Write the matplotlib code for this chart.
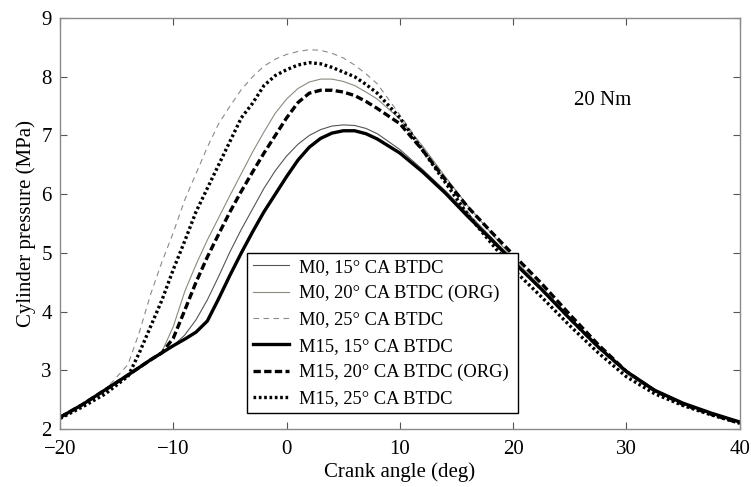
import matplotlib
matplotlib.use('Agg')
import matplotlib.pyplot as plt

plt.rcParams['font.family'] = ['Liberation Serif', 'DejaVu Serif']

# crank angle (deg) points
angle = [-20, -18, -16, -14, -13, -12, -11, -10, -9, -8, -7, -6, -5, -4, -3, -2, -1,
         0, 1, 2, 3, 4, 5, 6, 7, 8, 10, 12, 14, 16, 18, 20,
         22.5, 25, 27.5, 30, 32.5, 35, 37.5, 40]

# cylinder pressure (MPa)
m0_15 = [2.20, 2.42, 2.67, 2.92, 3.05, 3.18, 3.30, 3.42, 3.60, 3.86, 4.20, 4.60, 5.02, 5.40, 5.75, 6.10, 6.40,
         6.65, 6.85, 7.00, 7.10, 7.16, 7.18, 7.17, 7.12, 7.03, 6.76, 6.42, 6.06, 5.67, 5.28, 4.88,
         4.40, 3.88, 3.40, 2.97, 2.66, 2.43, 2.26, 2.12]
m0_20 = [2.20, 2.42, 2.67, 2.92, 3.05, 3.18, 3.32, 3.75, 4.34, 4.80, 5.22, 5.60, 5.98, 6.35, 6.72, 7.06, 7.38,
         7.62, 7.80, 7.91, 7.96, 7.96, 7.92, 7.85, 7.74, 7.62, 7.28, 6.82, 6.30, 5.80, 5.35, 4.90,
         4.42, 3.90, 3.41, 2.97, 2.65, 2.43, 2.26, 2.11]
m0_25 = [2.20, 2.42, 2.67, 3.10, 3.65, 4.30, 4.85, 5.35, 5.90, 6.35, 6.80, 7.20, 7.50, 7.78, 8.00, 8.18, 8.30,
         8.38, 8.43, 8.46, 8.45, 8.40, 8.32, 8.20, 8.05, 7.88, 7.35, 6.80, 6.25, 5.70, 5.25, 4.85,
         4.36, 3.85, 3.37, 2.94, 2.63, 2.42, 2.25, 2.11]
m15_15 = [2.20, 2.42, 2.67, 2.92, 3.05, 3.18, 3.30, 3.42, 3.53, 3.65, 3.84, 4.22, 4.62, 5.00, 5.36, 5.70, 6.00,
          6.30, 6.58, 6.80, 6.95, 7.04, 7.08, 7.08, 7.03, 6.94, 6.70, 6.38, 6.02, 5.62, 5.24, 4.85,
          4.38, 3.88, 3.40, 2.98, 2.66, 2.44, 2.27, 2.12]
m15_20 = [2.20, 2.42, 2.67, 2.92, 3.05, 3.18, 3.30, 3.55, 4.02, 4.50, 4.93, 5.32, 5.70, 6.05, 6.38, 6.70, 7.00,
          7.30, 7.56, 7.72, 7.77, 7.77, 7.74, 7.68, 7.58, 7.46, 7.20, 6.75, 6.25, 5.78, 5.37, 4.97,
          4.48, 3.95, 3.44, 2.98, 2.65, 2.42, 2.25, 2.10]
m15_25 = [2.18, 2.38, 2.60, 2.90, 3.30, 3.75, 4.20, 4.72, 5.20, 5.70, 6.10, 6.50, 6.90, 7.30, 7.55, 7.85, 8.02,
          8.12, 8.20, 8.24, 8.22, 8.16, 8.08, 8.00, 7.87, 7.72, 7.30, 6.75, 6.20, 5.65, 5.18, 4.72,
          4.25, 3.76, 3.30, 2.89, 2.60, 2.40, 2.24, 2.10]

labels = ['M0, 15° CA BTDC', 'M0, 20° CA BTDC (ORG)', 'M0, 25° CA BTDC',
          'M15, 15° CA BTDC', 'M15, 20° CA BTDC (ORG)', 'M15, 25° CA BTDC']

fig = plt.figure(figsize=(7.51, 4.87), dpi=100)
ax = fig.add_axes([0.080, 0.119, 0.905, 0.844])

ax.plot(angle, m0_15, color='#555555', lw=0.8, label=labels[0])
ax.plot(angle, m0_20, color='#8a8a80', lw=0.8, label=labels[1])
ax.plot(angle, m0_25, color='#8a8a8a', lw=0.8, ls=(0, (5, 4)), label=labels[2])
ax.plot(angle, m15_15, color='black', lw=2.4, label=labels[3])
ax.plot(angle, m15_20, color='black', lw=2.4, ls=(0, (2.2, 1.0)), label=labels[4])
ax.plot(angle, m15_25, color='black', lw=2.4, ls=(0, (0.8, 0.8)), label=labels[5])

ax.set_xlim(-20, 40)
ax.set_ylim(2, 9)
ax.set_xticks([-20, -10, 0, 10, 20, 30, 40])
ax.set_xticklabels(['\u221220', '\u221210', '0', '10', '20', '30', '40'])
ax.tick_params(direction='in', top=True, right=True, length=5, width=0.8,
               color='#555555', labelsize=15)
ax.tick_params(axis='x', pad=8)
ax.tick_params(axis='y', pad=6)
for s in ax.spines.values():
    s.set_color('#8a8a8a')
    s.set_linewidth(1.0)

ax.set_xlabel('Crank angle (deg)', fontsize=15, labelpad=2)
ax.set_ylabel('Cylinder pressure (MPa)', fontsize=15, labelpad=4)
ax.text(25.4, 7.6, '20 Nm', fontsize=15, va='center')

leg = ax.legend(loc='lower left', bbox_to_anchor=(0.275, 0.039, 0.399, 0.43),
                mode='expand', fontsize=13.3, frameon=True, fancybox=False,
                handlelength=2.0, handletextpad=0.5, borderpad=0.3,
                labelspacing=0.5, borderaxespad=0)
leg.get_frame().set_edgecolor('black')
leg.get_frame().set_linewidth(1.0)
leg.get_frame().set_alpha(1)

fig.savefig('out.png', dpi=100)
